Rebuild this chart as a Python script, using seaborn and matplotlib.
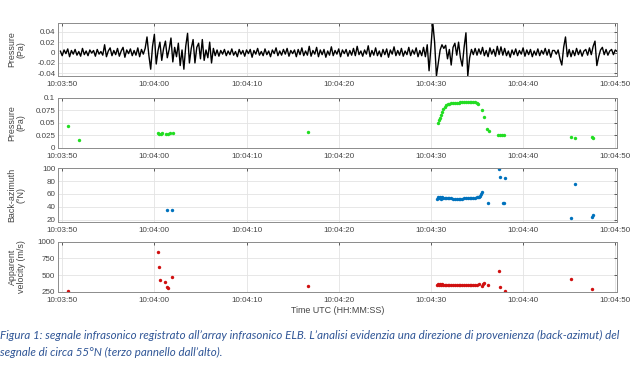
import numpy as np
import pandas as pd
import matplotlib
matplotlib.use("Agg")
import matplotlib.pyplot as plt
import matplotlib.dates as mdates
from matplotlib.ticker import FuncFormatter
import seaborn as sns

# waveform, sampled every 0.2 s starting at 10:03:49.8 (values in mPa)
wave_start = -0.2
wave_step = 0.2
wave_mpa = [
    3, -6, 5, -2, 7, -8, 4, -3, 6, -5,
    2, -7, 8, -4, 3, -6, 5, -1, 4, -7,
    6, -3, 2, -5, 15, -8, 3, 9, -6, 4,
    -4, 8, -7, 3, 10, -9, 5, -2, 7, -6,
    4, -5, 9, -8, 6, -3, 8, 30, -5, -32,
    12, 35, -22, 4, 20, -15, 8, 22, -10, 6,
    28, -18, 10, -8, 18, -25, 5, -32, 12, 37,
    -20, 8, 25, -20, 10, 18, -12, 25, -15, 5,
    -10, 20, -20, 8, -6, 5, -7, 4, -3, 6,
    -6, 3, -4, 7, -5, 2, -8, 6, -3, 4,
    -7, 5, -2, 6, -9, 4, -3, 8, -5, 2,
    -6, 7, -4, 3, -8, 5, -2, 9, -6, 3,
    -5, 6, -3, 8, -7, 4, -2, 5, -8, 6,
    -4, 9, -6, 3, -5, 12, -7, 4, -3, 10,
    -8, 5, -4, 6, -9, 3, -5, 11, -6, 4,
    -3, 7, -8, 5, -2, 6, -7, 4, -5, 8,
    -6, 12, -4, 3, -7, 5, -3, 13, -8, 4,
    -5, 9, -6, 3, -8, 6, -4, 7, -9, 5,
    -3, 11, -6, 4, -5, 8, -7, 3, -4, 10,
    -6, 5, -3, 9, -8, 4, -6, 10, -8, 15,
    -35, 10, 58, 20, -45, -20, 5, 15, 8, 14,
    -12, 6, -24, 10, 18, -5, 20, -10, -26, 10,
    38, -45, -10, 6, -4, 8, -5, 7, -3, 10,
    -6, 4, -8, 9, -3, 6, -7, 12, -4, 11,
    -5, 8, -6, 3, -9, 5, -4, 7, -6, 4,
    -3, 9, -7, 5, -4, 6, -8, 3, -5, 7,
    -6, 4, -3, 8, -5, 6, -9, 4, 4, -3,
    5, -12, -24, 10, 30, -8, 6, -8, 4, -6,
    8, -4, 5, -7, 3, 6, -5, 9, -4, 12,
    22, -25, -8, 5, 10, -4, 6, -5, 3, 6,
    -4, 5, 2,
]

# detections (seconds after 10:03:50)
green_t = [0.6, 1.85, 10.4, 10.55, 10.7, 10.85, 11.3, 11.5, 11.7, 12.0, 26.7,
           40.8, 40.9, 41.0, 41.1, 41.2, 41.35, 41.5, 41.65, 41.8, 42.0, 42.2,
           42.4, 42.6, 42.8, 43.0, 43.2, 43.4, 43.6, 43.8, 44.0, 44.2, 44.4,
           44.6, 44.8, 45.0, 45.15, 45.5, 45.8, 46.1, 46.3, 47.3, 47.5, 47.7,
           47.9, 55.2, 55.6, 57.45, 57.6]
green_p = [0.044, 0.016, 0.029, 0.028, 0.028, 0.029, 0.028, 0.028, 0.029, 0.030, 0.031,
           0.050, 0.055, 0.060, 0.066, 0.072, 0.078, 0.082, 0.085, 0.087, 0.088, 0.089,
           0.089, 0.090, 0.090, 0.090, 0.091, 0.091, 0.091, 0.092, 0.092, 0.091, 0.092,
           0.092, 0.091, 0.090, 0.087, 0.076, 0.062, 0.038, 0.033, 0.025, 0.026, 0.026,
           0.025, 0.022, 0.020, 0.021, 0.019]

baz_t = [11.4, 11.9,
         40.7, 40.8, 40.9, 41.0, 41.1, 41.2, 41.35, 41.5, 41.65, 41.8, 42.0, 42.2,
         42.4, 42.6, 42.8, 43.0, 43.2, 43.4, 43.6, 43.8, 44.0, 44.2, 44.4, 44.6,
         44.8, 45.0, 45.1, 45.2, 45.3, 45.4, 45.5,
         46.2, 47.35, 47.45, 47.8, 47.9, 48.0, 55.2, 55.6, 57.45, 57.55]
baz_deg = [36, 36,
           52, 56, 54, 55.5, 53, 55, 54, 54.5, 53.5, 54, 53.5, 53.5,
           53, 53, 53, 53, 53, 53, 53.5, 53.5, 53.5, 54, 54, 54,
           54.5, 55, 55.5, 56, 57, 59.5, 63,
           45.5, 98, 86.5, 45.5, 45.5, 84, 22.5, 75.5, 25, 27.5]

vel_t = [0.6, 10.37, 10.45, 10.66, 11.2, 11.35, 11.45, 11.94, 26.7,
         40.7, 40.8, 40.9, 41.0, 41.1, 41.2, 41.35, 41.5, 41.65, 41.8, 42.0, 42.2,
         42.4, 42.6, 42.8, 43.0, 43.2, 43.4, 43.6, 43.8, 44.0, 44.2, 44.4, 44.6,
         44.8, 45.0, 45.2, 45.5, 45.6, 45.8, 46.2,
         47.35, 47.45, 48.0, 55.2, 57.5]
vel_ms = [262, 850, 616, 425, 395, 325, 305, 465, 335,
          350, 370, 345, 365, 355, 360, 350, 358, 352, 355, 350, 352,
          350, 350, 348, 350, 348, 350, 348, 350, 352, 350, 355, 352,
          355, 358, 360, 335, 365, 380, 350,
          560, 325, 260, 445, 290]

t0 = pd.Timestamp("2023-01-01 10:03:50")


def to_time(sec):
    return t0 + pd.to_timedelta(np.asarray(sec, dtype=float), unit="s")


wave = pd.DataFrame({
    "time": to_time(wave_start + wave_step * np.arange(len(wave_mpa))),
    "p": np.array(wave_mpa) / 1000.0,
})
green = pd.DataFrame({"time": to_time(green_t), "p": green_p})
baz = pd.DataFrame({"time": to_time(baz_t), "baz": baz_deg})
vel = pd.DataFrame({"time": to_time(vel_t), "vel": vel_ms})

sns.set_style("white")
plt.rcParams["font.family"] = ["Liberation Sans", "DejaVu Sans"]

fig = plt.figure(figsize=(6.31, 3.76), dpi=100)
left, width = 0.092, 0.886
boxes = [(0.798, 0.141), (0.607, 0.133), (0.410, 0.143), (0.224, 0.133)]
axes = [fig.add_axes([left, b, width, h]) for b, h in boxes]

sns.lineplot(data=wave, x="time", y="p", ax=axes[0], color="black",
             linewidth=1.0, estimator=None)
sns.scatterplot(data=green, x="time", y="p", ax=axes[1], color="#22DD22",
                s=6, linewidth=0)
sns.scatterplot(data=baz, x="time", y="baz", ax=axes[2], color="#0072BD",
                s=6, linewidth=0)
sns.scatterplot(data=vel, x="time", y="vel", ax=axes[3], color="#D01010",
                s=6, linewidth=0)

ylims = [(-0.045, 0.057), (0, 0.1), (17, 100), (250, 1000)]
yticks = [[-0.04, -0.02, 0, 0.02, 0.04], [0, 0.025, 0.05, 0.075, 0.1],
          [20, 40, 60, 80, 100], [250, 500, 750, 1000]]
ylabels = ["Pressure\n(Pa)", "Pressure\n(Pa)", "Back-azimuth\n(°N)",
           "Apparent\nvelocity (m/s)"]

for ax, yl, yt, lab in zip(axes, ylims, yticks, ylabels):
    ax.set_xlim(t0 - pd.Timedelta(seconds=0.45), t0 + pd.Timedelta(seconds=60.2))
    ax.set_ylim(*yl)
    ax.set_yticks(yt)
    ax.yaxis.set_major_formatter(FuncFormatter(lambda v, _: f"{v:g}"))
    ax.xaxis.set_major_locator(mdates.SecondLocator(bysecond=range(0, 60, 10)))
    ax.xaxis.set_major_formatter(mdates.DateFormatter("%H:%M:%S"))
    ax.grid(True, color="#E3E3E3", linewidth=0.6)
    ax.tick_params(direction="in", length=2.5, width=0.6, labelsize=5.8,
                   colors="#444444", pad=2, top=True, right=True)
    ax.tick_params(axis="x", pad=3.5)
    for sp in ax.spines.values():
        sp.set_color("#8C8C8C")
        sp.set_linewidth(0.7)
    ax.set_xlabel("")
    ax.set_ylabel(lab, fontsize=6.4, color="#444444", linespacing=1.0)
    ax.yaxis.set_label_coords(-0.058, 0.5)

axes[3].set_xlabel("Time UTC (HH:MM:SS)", fontsize=6.4, color="#444444", labelpad=2)

caption_style = dict(family="Lato", style="italic", fontsize=8.3,
                     color="#2F5596", va="center")
fig.text(0.0, 0.108,
         "Figura 1: segnale infrasonico registrato all’array infrasonico ELB. "
         "L’analisi evidenzia una direzione di provenienza (back-azimut) del",
         **caption_style)
fig.text(0.0, 0.063,
         "segnale di circa 55°N (terzo pannello dall’alto).",
         **caption_style)

fig.savefig("out.png", dpi=100)
